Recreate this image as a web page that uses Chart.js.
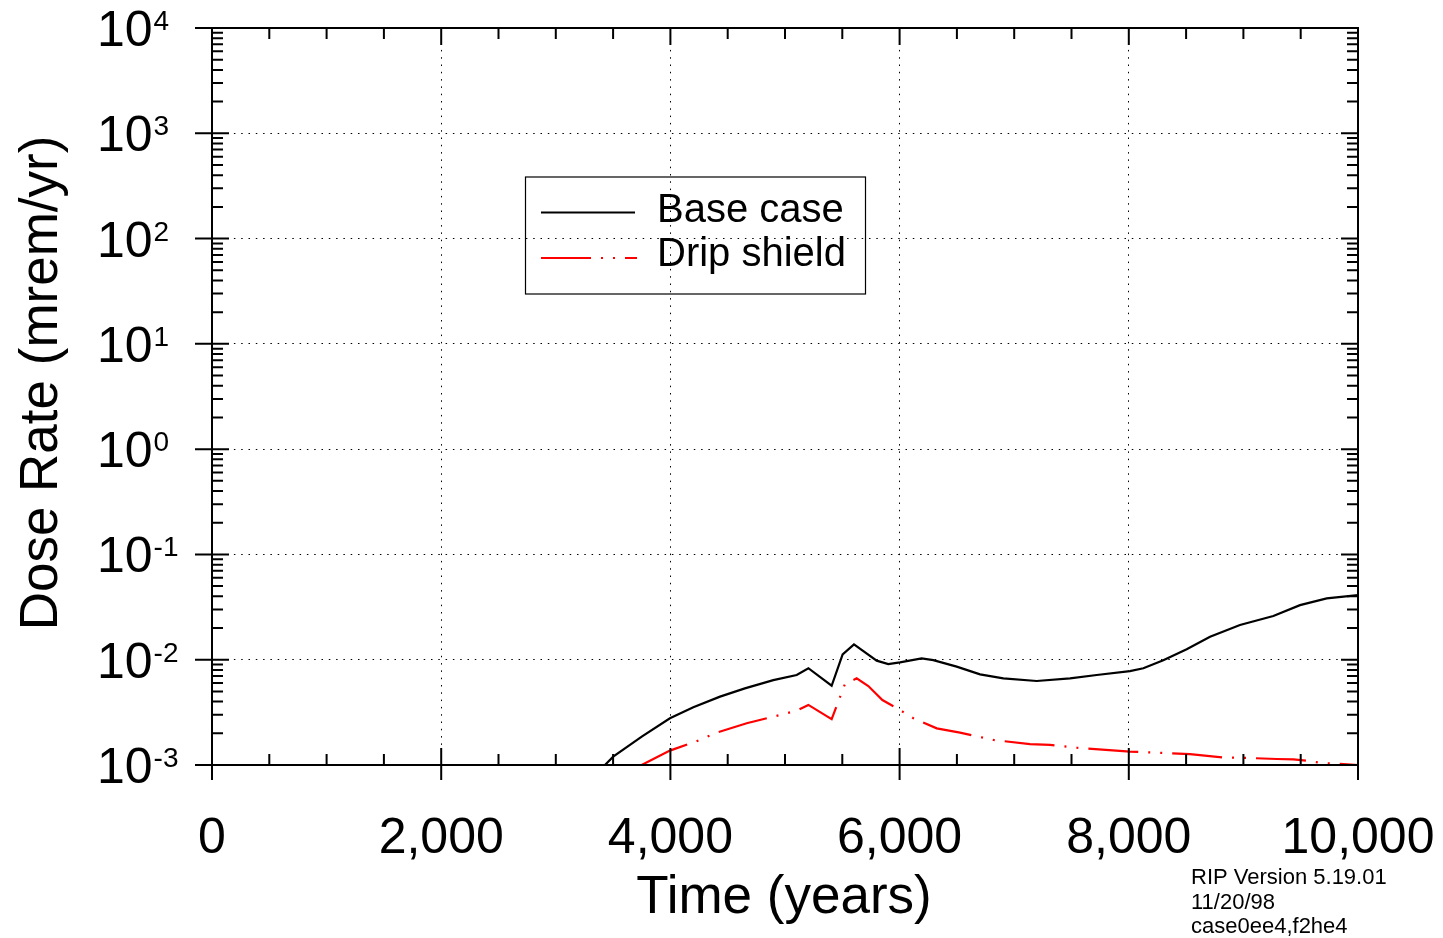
<!DOCTYPE html>
<html>
<head>
<meta charset="utf-8">
<script src="https://cdn.jsdelivr.net/npm/chart.js@4.4.1/dist/chart.umd.min.js"></script>
<style>
  html, body { margin: 0; padding: 0; background: #fff; }
  #wrap { width: 1443px; height: 938px; position: relative; }
</style>
</head>
<body>
<div id="wrap"><canvas id="doseChart"></canvas></div>
<script>
// values
const baseYears = [3429, 3501, 3750, 3996, 4200, 4433, 4650, 4898, 5102, 5204, 5407, 5503, 5602, 5800, 5901, 6003, 6192, 6294, 6498, 6702, 6905, 7196, 7487, 7720, 8010, 8127, 8301, 8505, 8709, 8970, 9261, 9494, 9727, 10000];
const baseCase = [1.0e-3, 1.2e-3, 1.86e-3, 2.78e-3, 3.53e-3, 4.46e-3, 5.34e-3, 6.4e-3, 7.16e-3, 8.3e-3, 5.66e-3, 1.125e-2, 1.40e-2, 9.8e-3, 9.1e-3, 9.45e-3, 1.03e-2, 9.9e-3, 8.6e-3, 7.26e-3, 6.65e-3, 6.28e-3, 6.65e-3, 7.16e-3, 7.8e-3, 8.3e-3, 9.9e-3, 1.256e-2, 1.65e-2, 2.14e-2, 2.6e-2, 3.3e-2, 3.83e-2, 4.11e-2];

const dripYears = [3749, 3996, 4215, 4404, 4666, 4898, 5102, 5204, 5407, 5523, 5625, 5727, 5850, 6003, 6120, 6324, 6527, 6818, 7138, 7312, 7545, 8010, 8243, 8534, 8825, 9000, 9291, 9436, 9581, 9668, 10000];
const dripShield = [1.0e-3, 1.37e-3, 1.66e-3, 2.03e-3, 2.49e-3, 2.88e-3, 3.28e-3, 3.72e-3, 2.73e-3, 5.87e-3, 6.65e-3, 5.62e-3, 4.14e-3, 3.33e-3, 2.78e-3, 2.23e-3, 2.03e-3, 1.73e-3, 1.58e-3, 1.55e-3, 1.46e-3, 1.34e-3, 1.31e-3, 1.27e-3, 1.18e-3, 1.17e-3, 1.14e-3, 1.13e-3, 1.09e-3, 1.05e-3, 1.0e-3];

const xTicks = [0, 2000, 4000, 6000, 8000, 10000];
const xTickLabels = ["0", "2,000", "4,000", "6,000", "8,000", "10,000"];
const yExponents = [-3, -2, -1, 0, 1, 2, 3, 4];
const footerLines = ["RIP Version 5.19.01", "11/20/98", "case0ee4,f2he4"];

const FONT = '"Liberation Sans", Arial, sans-serif';
const dripDash = [50, 10, 2, 10, 2, 10];

const toPoints = (xs, ys) => xs.map((v, i) => ({ x: v, y: ys[i] }));

// frame, tick marks, labels, legend box
const decorations = {
  id: "decorations",
  afterDraw(chart) {
    const { ctx, chartArea: a, scales: { x, y } } = chart;
    ctx.save();
    ctx.strokeStyle = "#000";
    ctx.lineWidth = 2;
    ctx.strokeRect(a.left, a.top, a.right - a.left, a.bottom - a.top);

    ctx.beginPath();
    for (let v = 0; v <= 10000; v += 500) {
      const px = x.getPixelForValue(v);
      const major = v % 2000 === 0;
      ctx.moveTo(px, a.bottom + (major ? 15 : 0));
      ctx.lineTo(px, a.bottom - (major ? 17 : 11));
      ctx.moveTo(px, a.top);
      ctx.lineTo(px, a.top + (major ? 17 : 11));
    }
    yExponents.forEach(e => {
      for (let k = 1; k <= 9; k++) {
        const v = k * Math.pow(10, e);
        if (v > 1e4 + 1) break;
        const py = y.getPixelForValue(v);
        const major = k === 1;
        ctx.moveTo(a.left - (major ? 17 : 0), py);
        ctx.lineTo(a.left + (major ? 17 : 11), py);
        ctx.moveTo(a.right, py);
        ctx.lineTo(a.right - (major ? 17 : 11), py);
      }
    });
    ctx.stroke();

    ctx.fillStyle = "#000";
    // y labels 10^n
    yExponents.forEach(e => {
      const py = y.getPixelForValue(Math.pow(10, e));
      ctx.textAlign = "left";
      ctx.textBaseline = "alphabetic";
      ctx.font = "50px " + FONT;
      ctx.fillText("10", 97, py + 18);
      const w = ctx.measureText("10").width;
      ctx.font = "28px " + FONT;
      ctx.fillText(String(e), 97 + w + 1, py + 2);
    });

    // x labels
    ctx.font = "50px " + FONT;
    ctx.textAlign = "center";
    xTicks.forEach((v, i) => {
      ctx.fillText(xTickLabels[i], x.getPixelForValue(v), 853);
    });

    // axis titles
    ctx.font = "53px " + FONT;
    ctx.fillText("Time (years)", 784, 913);
    ctx.save();
    ctx.translate(57, 383);
    ctx.rotate(-Math.PI / 2);
    ctx.fillText("Dose Rate (mrem/yr)", 0, 0);
    ctx.restore();

    // legend
    ctx.lineWidth = 1.2;
    ctx.strokeRect(525.5, 177, 340, 117);
    ctx.lineWidth = 2;
    ctx.beginPath();
    ctx.moveTo(541, 212.5);
    ctx.lineTo(635, 212.5);
    ctx.stroke();
    ctx.strokeStyle = "#ff0000";
    ctx.setLineDash(dripDash);
    ctx.beginPath();
    ctx.moveTo(541, 258);
    ctx.lineTo(637, 258);
    ctx.stroke();
    ctx.setLineDash([]);
    ctx.font = "40px " + FONT;
    ctx.textAlign = "left";
    ctx.fillText("Base case", 657, 222);
    ctx.fillText("Drip shield", 657, 266);

    // footer
    ctx.font = "22px " + FONT;
    footerLines.forEach((t, i) => ctx.fillText(t, 1191, 884 + i * 24.5));
    ctx.restore();
  }
};

const ctx = document.getElementById("doseChart").getContext("2d");
new Chart(ctx, {
  type: "line",
  data: {
    datasets: [
      {
        label: "Base case",
        data: toPoints(baseYears, baseCase),
        borderColor: "#000",
        borderWidth: 2.2,
        pointRadius: 0,
        tension: 0
      },
      {
        label: "Drip shield",
        data: toPoints(dripYears, dripShield),
        borderColor: "#ff0000",
        borderWidth: 2.2,
        borderDash: dripDash,
        pointRadius: 0,
        tension: 0
      }
    ]
  },
  options: {
    responsive: true,
    maintainAspectRatio: false,
    animation: false,
    layout: { padding: { left: 212, right: 85, top: 28, bottom: 173 } },
    plugins: { legend: { display: false }, tooltip: { enabled: false } },
    scales: {
      x: {
        type: "linear",
        min: 0,
        max: 10000,
        afterBuildTicks: s => { s.ticks = xTicks.map(v => ({ value: v })); },
        ticks: { display: false },
        grid: { color: "#000", lineWidth: 1, drawTicks: false },
        border: { display: false, dash: [1.5, 5.8] }
      },
      y: {
        type: "logarithmic",
        min: 1e-3,
        max: 1e4,
        afterBuildTicks: s => { s.ticks = yExponents.map(e => ({ value: Math.pow(10, e) })); },
        ticks: { display: false },
        grid: { color: "#000", lineWidth: 1, drawTicks: false },
        border: { display: false, dash: [1.5, 5.8] }
      }
    }
  },
  plugins: [decorations]
});
</script>
</body>
</html>
